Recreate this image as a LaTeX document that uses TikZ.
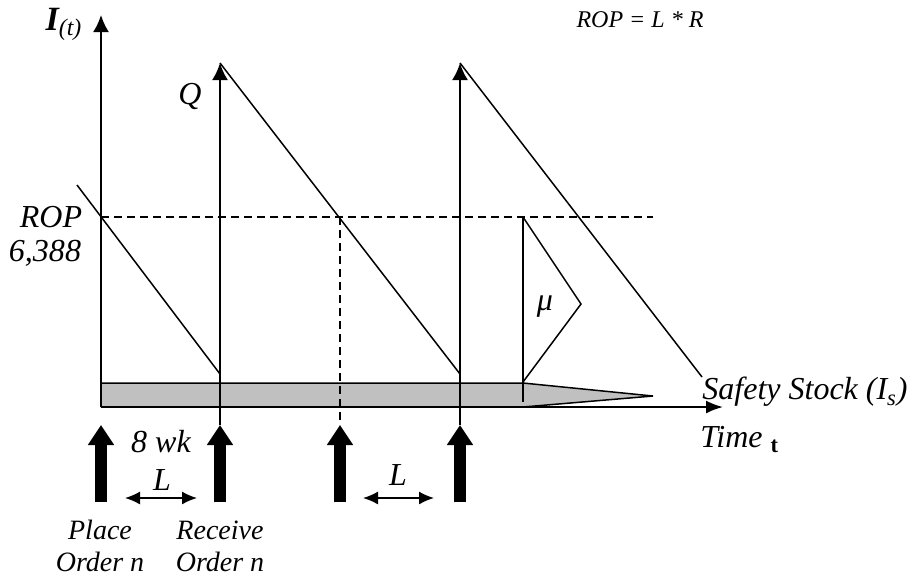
\documentclass[tikz,border=0pt]{standalone}
\usepackage{fontspec}
\setmainfont{Liberation Serif}
\usetikzlibrary{arrows.meta}
\definecolor{stockgray}{RGB}{192,192,192}

\begin{document}
\begin{tikzpicture}[x=0.5pt, y=-0.5pt,
  axis/.style={line width=1pt, -{Latex[length=8.5pt,width=8pt]}},
  saw/.style={line width=0.75pt},
  ropline/.style={line width=0.75pt, dash pattern=on 4pt off 2.5pt},
  orderarrow/.style={line width=6pt, -{Triangle[length=10pt,width=12.5pt]}},
  lead/.style={line width=0.75pt, {Latex[length=7.5pt,width=6.5pt]}-{Latex[length=7.5pt,width=6.5pt]}},
  lab/.style={inner sep=0pt, font=\fontsize{16}{19}\selectfont\itshape},
  small/.style={inner sep=0pt, font=\fontsize{14}{16}\selectfont\itshape, align=center}]
\useasboundingbox (0,0) rectangle (908,575);

\coordinate (O) at (101,407);
\coordinate (ytop) at (101,15);
\coordinate (xend) at (723,407);
\coordinate (r1t) at (220,63);
\coordinate (r2t) at (460,63);
\coordinate (s0) at (77,185);
\coordinate (s1) at (220,374);
\coordinate (s2) at (460,374);
\coordinate (s3) at (702,377);
\coordinate (ropl) at (101,217);
\coordinate (ropr) at (653,217);
\coordinate (ropx) at (340,217);
\coordinate (m0) at (523,217);
\coordinate (m1) at (523,402);
\coordinate (mpeak) at (581,304);
\coordinate (m2) at (523,382);

\coordinate (p1b) at (101,502);
\coordinate (p1t) at (101,425);
\coordinate (r1b) at (220,502);
\coordinate (r1a) at (220,425);
\coordinate (p2b) at (340,502);
\coordinate (p2t) at (340,425);
\coordinate (r2b) at (460,502);
\coordinate (r2a) at (460,425);

\coordinate (l1a) at (125,498);
\coordinate (l1b) at (197,498);
\coordinate (l2a) at (363,498);
\coordinate (l2b) at (434,498);

\fill[stockgray] (101,383) -- (523,383) -- (653,396) -- (523,407) -- (O) -- cycle;
\draw[saw] (O) -- (101,383) -- (523,383) -- (653,396) -- (523,407);

\draw[axis] (O) -- (ytop);
\draw[axis, -{Latex[length=8.5pt,width=6.5pt]}] (O) -- (xend);
\draw[axis] (r1a) -- (r1t);
\draw[axis] (r2a) -- (r2t);

\draw[saw] (s0) -- (s1);
\draw[saw] (r1t) -- (s2);
\draw[saw] (r2t) -- (s3);

\draw[ropline] (ropl) -- (ropr);
\draw[ropline] (ropx) -- (p2t);

\draw[saw] (m0) -- (m1);
\draw[saw] (m0) -- (mpeak) -- (m2);

\draw[orderarrow] (p1b) -- (p1t);
\draw[orderarrow] (r1b) -- (r1a);
\draw[orderarrow] (p2b) -- (p2t);
\draw[orderarrow] (r2b) -- (r2a);

\draw[lead] (l1a) -- (l1b);
\draw[lead] (l2a) -- (l2b);

\node[inner sep=0pt, font=\fontsize{17}{20}\selectfont\bfseries\itshape] (ilabel) at (64,24) {I\textsubscript{\mdseries(t)}};
\node[lab] (roptext) at (51,217) {ROP};
\node[lab] (ropval) at (45,253) {6,388};
\node[lab] (qlabel) at (190,96) {Q};
\node[inner sep=0pt, font=\fontsize{12}{14}\selectfont\itshape] (formula) at (640,20) {ROP = L * R};
\node[lab] (mu) at (545,307) {μ};
\node[lab, anchor=west] (safety) at (702,392) {Safety Stock (I\textsubscript{s})};
\node[lab, anchor=base west] (time) at (700,447) {Time \textsubscript{\upshape\bfseries t}};
\node[lab] (lead1) at (161,442) {8 wk};
\node[lab] (ltext1) at (162,480) {L};
\node[lab] (ltext2) at (398,475) {L};
\node[small] (place) at (100,546) {Place\\Order n};
\node[small] (receive) at (220,546) {Receive\\Order n};
\end{tikzpicture}
\end{document}
